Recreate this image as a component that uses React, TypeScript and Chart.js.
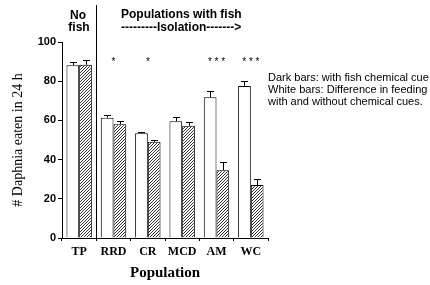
import React, { useEffect, useRef } from "react";
import { Chart, registerables } from "chart.js";

Chart.register(...registerables);

const categories = ["TP", "RRD", "CR", "MCD", "AM", "WC"];
const withoutCue = [88.2, 61.4, 53.4, 59.6, 71.8, 77.6];
const withoutCueErr = [1.8, 1.3, 0.7, 2.3, 3.4, 2.6];
const withCue = [88.4, 58.0, 49.1, 57.3, 34.6, 27.0];
const withCueErr = [2.4, 1.7, 0.7, 2.1, 4.3, 2.9];
const stars = ["", "*", "*", "", "* * *", "* * *"];
const yTicks = [0, 20, 40, 60, 80, 100];

function makeHatch(ctx: CanvasRenderingContext2D) {
  const c = document.createElement("canvas");
  c.width = 3;
  c.height = 3;
  const g = c.getContext("2d")!;
  g.fillStyle = "#ffffff";
  g.fillRect(0, 0, 3, 3);
  g.strokeStyle = "#333333";
  g.lineWidth = 1;
  g.beginPath();
  g.moveTo(0, 3);
  g.lineTo(3, 0);
  g.moveTo(-1, 1);
  g.lineTo(1, -1);
  g.moveTo(2, 4);
  g.lineTo(4, 2);
  g.stroke();
  return ctx.createPattern(c, "repeat")!;
}

const overlay = {
  id: "overlay",
  afterDatasetsDraw(chart: any) {
    const ctx = chart.ctx;
    const x = chart.scales.x;
    const y = chart.scales.y;
    ctx.save();
    ctx.strokeStyle = "#000";
    ctx.lineWidth = 1;
    const errs = [withoutCueErr, withCueErr];
    const vals = [withoutCue, withCue];
    for (let d = 0; d < 2; d++) {
      const meta = chart.getDatasetMeta(d);
      meta.data.forEach((bar: any, i: number) => {
        const top = y.getPixelForValue(vals[d][i]);
        const end = y.getPixelForValue(vals[d][i] + errs[d][i]);
        const cx = Math.round(bar.x) + 0.5;
        ctx.beginPath();
        ctx.moveTo(cx, top);
        ctx.lineTo(cx, Math.round(end) + 0.5);
        ctx.moveTo(cx - 3.5, Math.round(end) + 0.5);
        ctx.lineTo(cx + 3.5, Math.round(end) + 0.5);
        ctx.stroke();
      });
    }
    // separator
    const sep = Math.round((x.getPixelForValue(0) + x.getPixelForValue(1)) / 2) + 0.5;
    ctx.beginPath();
    ctx.moveTo(sep, 5);
    ctx.lineTo(sep, y.getPixelForValue(0));
    ctx.stroke();
    // stars
    ctx.fillStyle = "#000";
    ctx.font = "10px 'Liberation Sans', Arial";
    ctx.textAlign = "center";
    ctx.textBaseline = "middle";
    stars.forEach((s, i) => {
      if (s) ctx.fillText(s, x.getPixelForValue(i), y.getPixelForValue(89.5));
    });
    // headings
    ctx.font = "bold 12px 'Liberation Sans', Arial";
    ctx.textAlign = "center";
    ctx.fillText("No", 78, 16);
    ctx.fillText("fish", 79, 28);
    ctx.textAlign = "left";
    ctx.fillText("Populations with fish", 121, 15);
    ctx.fillText("---------Isolation------->", 121, 28);
    ctx.font = "11px 'Liberation Sans', Arial";
    ctx.fillText("Dark bars: with fish chemical cue", 268, 78);
    ctx.fillText("White bars: Difference in feeding", 268, 90);
    ctx.fillText("with and without chemical cues.", 268, 102);
    // axis titles
    ctx.font = "bold 15px 'Liberation Serif', 'Times New Roman'";
    ctx.textAlign = "center";
    ctx.fillText("Population", (chart.chartArea.left + chart.chartArea.right) / 2, 273);
    ctx.save();
    ctx.translate(18, (chart.chartArea.top + chart.chartArea.bottom) / 2);
    ctx.rotate(-Math.PI / 2);
    ctx.font = "14px 'Liberation Serif', 'Times New Roman'";
    ctx.fillText("# Daphnia eaten in 24 h", 0, 0);
    ctx.restore();
    ctx.restore();
  },
};

export default function App() {
  const ref = useRef<HTMLCanvasElement>(null);
  useEffect(() => {
    const canvas = ref.current!;
    const ctx = canvas.getContext("2d")!;
    const hatch = makeHatch(ctx);
    const chart = new Chart(canvas, {
      type: "bar",
      data: {
        labels: categories,
        datasets: [
          {
            label: "White",
            data: withoutCue,
            backgroundColor: "#ffffff",
            borderColor: "#000000",
            borderWidth: 1,
            borderSkipped: "bottom",
            categoryPercentage: 0.74,
            barPercentage: 1,
          },
          {
            label: "Dark",
            data: withCue,
            backgroundColor: hatch,
            borderColor: "#000000",
            borderWidth: 1,
            borderSkipped: "bottom",
            categoryPercentage: 0.74,
            barPercentage: 1,
          },
        ],
      },
      options: {
        animation: false,
        responsive: false,
        devicePixelRatio: 1,
        layout: { padding: { top: 42, right: 162, left: 0, bottom: 0 } },
        plugins: { legend: { display: false }, tooltip: { enabled: false } },
        scales: {
          x: {
            afterFit: (s: any) => {
              s.height = 47;
            },
            grid: {
              offset: true,
              drawOnChartArea: false,
              drawTicks: true,
              tickLength: 3,
              color: "#000",
            },
            border: { color: "#000", width: 1 },
            ticks: {
              color: "#000",
              padding: 4,
              maxRotation: 0,
              minRotation: 0,
              autoSkip: false,
              font: { family: "'Liberation Serif', 'Times New Roman'", size: 12, weight: "bold" },
            },
          },
          y: {
            min: 0,
            max: 100,
            afterFit: (s: any) => {
              s.width = 62;
            },
            afterBuildTicks: (s: any) => {
              s.ticks = yTicks.map((v) => ({ value: v }));
            },
            grid: {
              drawOnChartArea: false,
              drawTicks: true,
              tickLength: 4,
              color: "#000",
            },
            border: { color: "#000", width: 1 },
            ticks: {
              color: "#000",
              padding: 2,
              font: { family: "'Liberation Sans', Arial", size: 11, weight: "bold" },
            },
          },
        },
      },
      plugins: [overlay],
    } as any);
    return () => chart.destroy();
  }, []);
  return (
    <div style={{ position: "fixed", left: 0, top: 0, width: 430, height: 285, background: "#fff" }}>
      <canvas ref={ref} width={430} height={285} style={{ width: 430, height: 285 }} />
    </div>
  );
}
